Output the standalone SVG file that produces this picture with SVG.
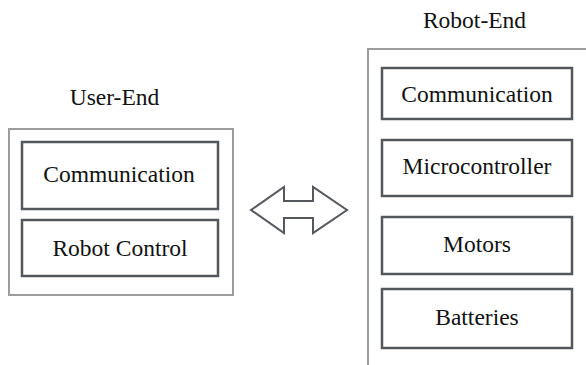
<svg xmlns="http://www.w3.org/2000/svg" width="586" height="365" viewBox="0 0 586 365">
<style>
.outer{fill:#fff;stroke:#9a9c9e;stroke-width:2}
.inner{fill:#fff;stroke:#54585c;stroke-width:2.5}
.t{font-family:'Liberation Serif','Times New Roman',serif;font-size:23.5px;fill:#111;text-anchor:middle}
.arrow{fill:#fff;stroke:#55595d;stroke-width:2;stroke-linejoin:miter}
</style>
<rect width="586" height="365" fill="#fff"/>
<g id="user-end">
<text class="t" x="114.5" y="105">User-End</text>
<rect class="outer" x="9" y="129" width="224" height="166"/>
</g>
<g id="user-communication">
<rect class="inner" x="22" y="142" width="196" height="67"/>
<text class="t" x="119" y="182">Communication</text>
</g>
<g id="user-robot-control">
<rect class="inner" x="22" y="220" width="196" height="56"/>
<text class="t" x="120" y="256">Robot Control</text>
</g>
<g id="robot-end">
<text class="t" x="474.5" y="28">Robot-End</text>
<rect class="outer" x="368" y="49" width="240" height="340"/>
</g>
<g id="robot-communication">
<rect class="inner" x="382" y="68" width="190" height="51"/>
<text class="t" x="477" y="101.5">Communication</text>
</g>
<g id="robot-microcontroller">
<rect class="inner" x="382" y="140" width="190" height="56"/>
<text class="t" x="477" y="174">Microcontroller</text>
</g>
<g id="robot-motors">
<rect class="inner" x="382" y="217" width="190" height="57"/>
<text class="t" x="477" y="252">Motors</text>
</g>
<g id="robot-batteries">
<rect class="inner" x="382" y="289" width="190" height="59"/>
<text class="t" x="477" y="325">Batteries</text>
</g>
<g id="connectors">
<polygon class="arrow" points="251,210 284,187 284,201 313,201 313,187 347,210 313,233 313,218 284,218 284,233"/>
</g>
</svg>
